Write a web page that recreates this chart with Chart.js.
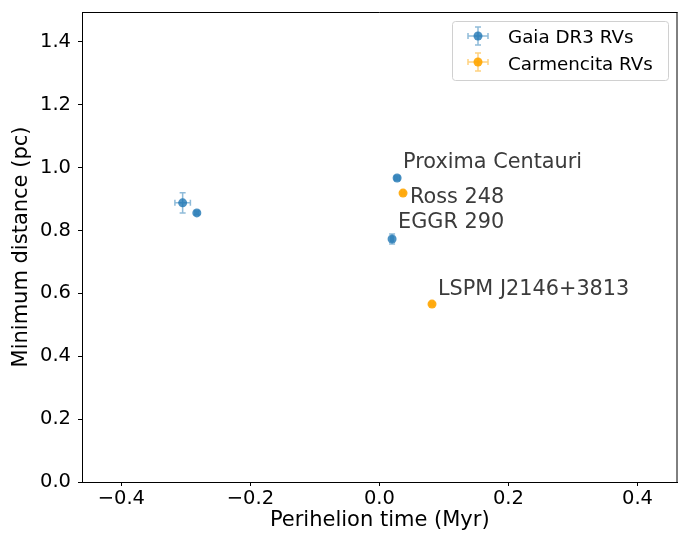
<!DOCTYPE html>
<html>
<head>
<meta charset="utf-8">
<script src="https://cdn.jsdelivr.net/npm/chart.js@4.4.0/dist/chart.umd.min.js"></script>
<style>
  html, body { margin: 0; padding: 0; background: #fff; }
  #wrap { width: 682px; height: 533px; }
</style>
</head>
<body>
<div id="wrap"><canvas id="chart"></canvas></div>
<script>
// data
const gaiaNames = ['', '', 'Proxima Centauri', 'EGGR 290'];
const gaiaTime = [-0.305, -0.283, 0.0274, 0.0196];
const gaiaDist = [0.888, 0.856, 0.967, 0.773];
const gaiaTimeErr = [0.012, 0.003, 0.004, 0.002];
const gaiaDistErr = [0.032, 0.006, 0.006, 0.016];

const carmNames = ['Ross 248', 'LSPM J2146+3813'];
const carmTime = [0.0366, 0.0815];
const carmDist = [0.919, 0.566];
const carmTimeErr = [0.002, 0.002];
const carmDistErr = [0.003, 0.003];

const xTicks = [-0.4, -0.2, 0.0, 0.2, 0.4];
const yTicks = [0.0, 0.2, 0.4, 0.6, 0.8, 1.0, 1.2, 1.4];

const FONT = 'DejaVu Sans';
const BLUE = 'rgba(31,119,180,0.8)';
const BLUE_BAR = 'rgba(31,119,180,0.5)';
const ORANGE = 'rgba(255,165,0,0.9)';
const ORANGE_BAR = 'rgba(255,165,0,0.5)';

function toPoints(xs, ys, xe, ye, names) {
    return xs.map((x, i) => ({ x: x, y: ys[i], xErr: xe[i], yErr: ye[i], name: names[i] }));
}

// label offset in pixels from the point (text left edge, baseline)
const labelOffsets = {
    'Proxima Centauri': [6, -10],
    'EGGR 290': [6, -11],
    'Ross 248': [7, 10],
    'LSPM J2146+3813': [6, -9]
};

function drawErrorMark(ctx, cx, x0, x1, cy, y0, y1, cap) {
    ctx.beginPath();
    ctx.moveTo(x0, cy); ctx.lineTo(x1, cy);
    ctx.moveTo(x0, cy - cap); ctx.lineTo(x0, cy + cap);
    ctx.moveTo(x1, cy - cap); ctx.lineTo(x1, cy + cap);
    ctx.moveTo(cx, y0); ctx.lineTo(cx, y1);
    ctx.moveTo(cx - cap, y0); ctx.lineTo(cx + cap, y0);
    ctx.moveTo(cx - cap, y1); ctx.lineTo(cx + cap, y1);
    ctx.stroke();
}

const errorBars = {
    id: 'errorBars',
    beforeDatasetsDraw(chart) {
        const ctx = chart.ctx;
        const xs = chart.scales.x, ys = chart.scales.y;
        chart.data.datasets.forEach(ds => {
            ctx.save();
            ctx.strokeStyle = ds.barColor;
            ctx.lineWidth = 1.5;
            ds.data.forEach(p => {
                drawErrorMark(ctx,
                    xs.getPixelForValue(p.x), xs.getPixelForValue(p.x - p.xErr), xs.getPixelForValue(p.x + p.xErr),
                    ys.getPixelForValue(p.y), ys.getPixelForValue(p.y - p.yErr), ys.getPixelForValue(p.y + p.yErr), 3);
            });
            ctx.restore();
        });
    },
    afterDatasetsDraw(chart) {
        const ctx = chart.ctx;
        const xs = chart.scales.x, ys = chart.scales.y;
        ctx.save();
        ctx.font = '20.8px "' + FONT + '"';
        ctx.fillStyle = '#3b3b3b';
        ctx.textAlign = 'left';
        ctx.textBaseline = 'alphabetic';
        chart.data.datasets.forEach(ds => {
            ds.data.forEach(p => {
                if (!p.name) return;
                const off = labelOffsets[p.name] || [6, -10];
                ctx.fillText(p.name, xs.getPixelForValue(p.x) + off[0], ys.getPixelForValue(p.y) + off[1]);
            });
        });
        ctx.restore();
    }
};

// closes the box (top and right spines) and draws the legend
const frameAndLegend = {
    id: 'frameAndLegend',
    afterDraw(chart) {
        const ctx = chart.ctx;
        const a = chart.chartArea;
        ctx.save();
        ctx.strokeStyle = '#000';
        ctx.lineWidth = 1;
        ctx.beginPath();
        ctx.moveTo(a.left, a.top + 0.5); ctx.lineTo(a.right, a.top + 0.5);
        ctx.moveTo(a.right - 0.5, a.top); ctx.lineTo(a.right - 0.5, a.bottom);
        ctx.stroke();

        const bx = 452, by = 21, bw = 216, bh = 59;
        ctx.fillStyle = 'rgba(255,255,255,0.8)';
        ctx.strokeStyle = '#d0d0d0';
        ctx.beginPath();
        ctx.roundRect(bx + 0.5, by + 0.5, bw, bh, 3);
        ctx.fill();
        ctx.stroke();
        chart.data.datasets.forEach((ds, i) => {
            const cx = 478, cy = 36 + i * 26;
            ctx.strokeStyle = ds.barColor;
            ctx.lineWidth = 1.5;
            drawErrorMark(ctx, cx, cx - 10, cx + 10, cy, cy - 9, cy + 9, 3);
            ctx.fillStyle = ds.pointBackgroundColor;
            ctx.beginPath();
            ctx.arc(cx, cy, 4.5, 0, Math.PI * 2);
            ctx.fill();
            ctx.fillStyle = '#000';
            ctx.font = '18.3px "' + FONT + '"';
            ctx.textBaseline = 'alphabetic';
            ctx.fillText(ds.label, 508, 43 + i * 27);
        });
        ctx.restore();
    }
};

const tickFmt = v => (v < 0 ? '\u2212' : '') + Math.abs(v).toFixed(1);

new Chart(document.getElementById('chart'), {
    type: 'scatter',
    data: {
        datasets: [{
            label: 'Gaia DR3 RVs',
            data: toPoints(gaiaTime, gaiaDist, gaiaTimeErr, gaiaDistErr, gaiaNames),
            pointBackgroundColor: BLUE,
            pointBorderWidth: 0,
            pointRadius: 4.5,
            barColor: BLUE_BAR
        }, {
            label: 'Carmencita RVs',
            data: toPoints(carmTime, carmDist, carmTimeErr, carmDistErr, carmNames),
            pointBackgroundColor: ORANGE,
            pointBorderWidth: 0,
            pointRadius: 4.5,
            barColor: ORANGE_BAR
        }]
    },
    options: {
        responsive: true,
        maintainAspectRatio: false,
        animation: false,
        layout: { padding: { top: 12, right: 4, left: 0, bottom: 0 } },
        plugins: {
            legend: { display: false },
            tooltip: { enabled: false }
        },
        scales: {
            x: {
                type: 'linear',
                min: -0.461,
                max: 0.462,
                afterBuildTicks: s => { s.ticks = xTicks.map(v => ({ value: v })); },
                afterFit: s => { s.height = 51; s.paddingLeft = 0; s.paddingRight = 0; },
                border: { color: '#000', width: 1 },
                grid: { drawOnChartArea: false, tickLength: 4, tickColor: '#000' },
                ticks: {
                    color: '#000',
                    font: { family: FONT, size: 19.5 },
                    padding: 1,
                    maxRotation: 0,
                    callback: tickFmt
                },
                title: {
                    display: true,
                    text: 'Perihelion time (Myr)',
                    color: '#000',
                    font: { family: FONT, size: 21 },
                    padding: { top: 0, bottom: 0 }
                }
            },
            y: {
                type: 'linear',
                min: 0,
                max: 1.495,
                afterBuildTicks: s => { s.ticks = yTicks.map(v => ({ value: v })); },
                afterFit: s => { s.width = 82; s.paddingTop = 0; s.paddingBottom = 0; },
                border: { color: '#000', width: 1 },
                grid: { drawOnChartArea: false, tickLength: 4, tickColor: '#000' },
                ticks: {
                    color: '#000',
                    font: { family: FONT, size: 19.5 },
                    padding: 7,
                    callback: v => v.toFixed(1)
                },
                title: {
                    display: true,
                    text: 'Minimum distance (pc)',
                    color: '#000',
                    font: { family: FONT, size: 21 },
                    padding: { top: 9, bottom: 0 }
                }
            }
        }
    },
    plugins: [errorBars, frameAndLegend]
});
</script>
</body>
</html>
